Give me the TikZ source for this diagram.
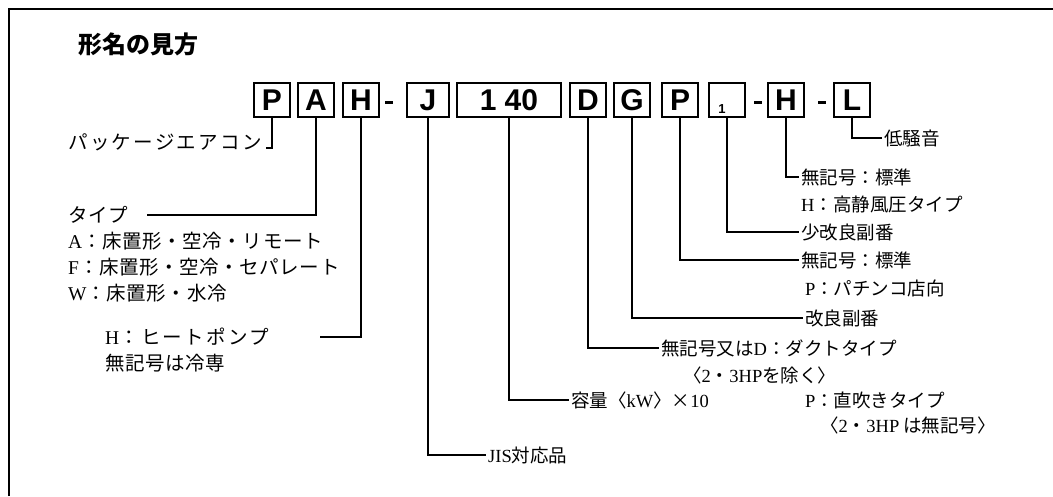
\documentclass[tikz,border=0pt]{standalone}
\usepackage{fontspec}
\setmainfont{Liberation Serif}
\newfontfamily\jp{Noto Sans CJK JP}
\newfontfamily\jpa[LetterSpace=3]{Noto Sans CJK JP}
\newfontfamily\jpb[LetterSpace=12]{Noto Sans CJK JP}
\newfontfamily\boxfont{Liberation Sans}
\newcommand\lt[1]{{\rmfamily #1}}
\begin{document}
\begin{tikzpicture}[x=1pt,y=-1pt,
  rlbl/.style={anchor=west, inner sep=2pt, font=\jp\fontsize{18.5}{20}\selectfont},
  llbl/.style={anchor=west, inner sep=2pt, font=\jpa\fontsize{19.5}{21}\selectfont},
  codebox/.style={draw, line width=2pt, minimum width=36pt, minimum height=34pt, inner sep=0pt,
    font=\boxfont\bfseries\fontsize{30}{30}\selectfont},
  hy/.style={fill, inner sep=0pt, minimum width=8pt, minimum height=3pt},
  conn/.style={line width=1.2pt},
  frame/.style={line width=2.6pt}]
\useasboundingbox (0,0) rectangle (1053,496);
\draw[frame] (9,496) |- (1053,9);
% title
\node[anchor=west, inner sep=0pt, font=\jp\bfseries\fontsize{24}{26}\selectfont] (title) at (78,44) {形名の見方};
% code boxes
\node[codebox] (bP) at (272,100) {P};
\node[codebox] (bA) at (316,100) {A};
\node[codebox] (bH) at (361,100) {H};
\node[hy] (d1) at (389,102) {};
\node[codebox, minimum width=42pt] (bJ) at (428,100) {J};
\node[codebox, minimum width=104pt] (b140) at (509,100) {1\hspace{8pt}40};
\node[codebox] (bD) at (588,100) {D};
\node[codebox] (bG) at (632,100) {G};
\node[codebox] (bP2) at (680,100) {P};
\node[codebox] (b1) at (727,100) {};
\node[inner sep=0pt, font=\boxfont\bfseries\fontsize{13}{13}\selectfont] (b1t) at (722,109) {1};
\node[hy] (d2) at (758,102) {};
\node[codebox] (bH2) at (786,100) {H};
\node[hy] (d3) at (822,102) {};
\node[codebox] (bL) at (852,100) {L};
% right labels
\node[rlbl] (tL) at (882,138) {低騒音};
\node[rlbl] (tH1) at (799,177) {無記号：標準};
\node[rlbl] (tH2) at (799,204) {\lt{H}：高静風圧タイプ};
\node[rlbl] (tOne) at (799,232) {少改良副番};
\node[rlbl] (tP1) at (799,260) {無記号：標準};
\node[rlbl] (tP2) at (803,288) {\lt{P}：パチンコ店向};
\node[rlbl] (tG) at (803,318) {改良副番};
\node[rlbl] (tD1) at (659,348) {無記号又は\lt{D}：ダクトタイプ};
\node[rlbl] (tD2) at (681,375) {〈\lt{2}・\lt{3HP}を除く〉};
\node[rlbl] (tCap) at (569,400) {容量〈\lt{kW}〉×\lt{10}};
\node[rlbl] (tDP1) at (803,400) {\lt{P}：直吹きタイプ};
\node[rlbl] (tDP2) at (818,425) {〈\lt{2}・\lt{3HP} は無記号〉};
\node[rlbl] (tJ) at (486,455) {\lt{JIS}対応品};
% left labels
\node[llbl, font=\jpb\fontsize{19.5}{21}\selectfont] (tPk) at (66,142) {パッケージエアコン};
\node[llbl] (tTy) at (66,215) {タイプ};
\node[llbl] (tA) at (66,241) {\lt{A}：床置形・空冷・リモート};
\node[llbl] (tF) at (66,267) {\lt{F}：床置形・空冷・セパレート};
\node[llbl] (tW) at (66,293) {\lt{W}：床置形・水冷};
\node[llbl, font=\jpb\fontsize{19.5}{21}\selectfont] (tHp1) at (103,337) {\lt{H}：ヒートポンプ};
\node[llbl] (tHp2) at (103,363) {無記号は冷専};
\coordinate (cPk) at (266,148);
\coordinate (cTy) at (147,215);
\coordinate (cHp) at (320,337);
% connectors
\draw[conn] (bL.south) |- (tL.west);
\draw[conn] (bH2.south) |- (tH1.west);
\draw[conn] (b1.south) |- (tOne.west);
\draw[conn] (bP2.south) |- (tP1.west);
\draw[conn] (bG.south) |- (tG.west);
\draw[conn] (bD.south) |- (tD1.west);
\draw[conn] (b140.south) |- (tCap.west);
\draw[conn] (bJ.south) |- (tJ.west);
\draw[conn] (bH.south) |- (cHp);
\draw[conn] (bA.south) |- (cTy);
\draw[conn] (bP.south) |- (cPk);
\end{tikzpicture}
\end{document}
